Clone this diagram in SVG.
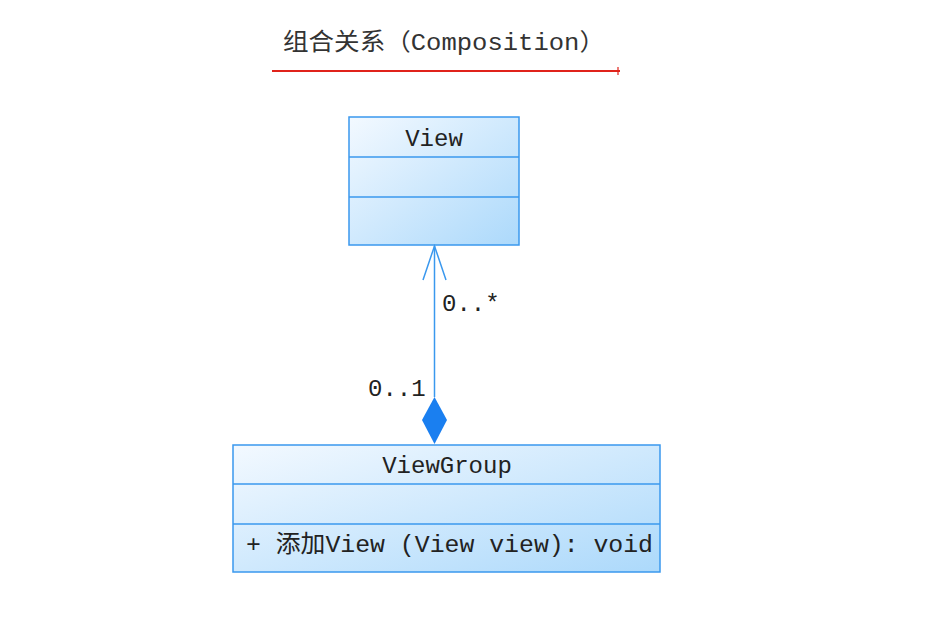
<svg xmlns="http://www.w3.org/2000/svg" width="945" height="629" viewBox="0 0 945 629">
<defs>
<linearGradient id="g" x1="0" y1="0" x2="1" y2="1">
<stop offset="0" stop-color="#f3f9ff"/>
<stop offset="1" stop-color="#acd9fb"/>
</linearGradient>
<style>
.box{fill:url(#g);stroke:#3a98ee;stroke-width:1.5}
.div{stroke:#3a98ee;stroke-width:1.5}
.t{font-family:"Liberation Mono","Noto Sans CJK SC",monospace;font-size:24px;fill:#222}
.conn{stroke:#3a98ee;stroke-width:1.5;fill:none}
</style>
</defs>
<rect width="945" height="629" fill="#ffffff"/>
<g id="title">
<text class="t" x="283" y="50" textLength="322" lengthAdjust="spacingAndGlyphs" style="fill:#333">组合关系（Composition）</text>
<line x1="272" y1="71" x2="620" y2="71" stroke="#e0231b" stroke-width="2"/>
<line x1="618" y1="67" x2="618" y2="75" stroke="#e0231b" stroke-width="1.2"/>
</g>
<g id="View">
<rect class="box" x="349" y="117" width="170" height="128"/>
<line class="div" x1="349" y1="157" x2="519" y2="157"/>
<line class="div" x1="349" y1="197" x2="519" y2="197"/>
<text class="t" x="434" y="146" text-anchor="middle">View</text>
</g>
<g id="ViewGroup">
<rect class="box" x="233" y="445" width="427" height="127"/>
<line class="div" x1="233" y1="484" x2="660" y2="484"/>
<line class="div" x1="233" y1="524" x2="660" y2="524"/>
<text class="t" x="447" y="473" text-anchor="middle">ViewGroup</text>
<text class="t" x="246" y="552" textLength="407" lengthAdjust="spacingAndGlyphs">+ 添加View (View view): void</text>
</g>
<g id="connectors">
<line class="conn" x1="434.5" y1="246" x2="434.5" y2="397"/>
<polyline class="conn" points="423,280 434.5,246 446,280"/>
<polygon points="434.5,397 447,420 434.5,444 422,420" fill="#1a7ff0"/>
<text class="t" x="442" y="311">0..*</text>
<text class="t" x="368" y="396">0..1</text>
</g>
</svg>
